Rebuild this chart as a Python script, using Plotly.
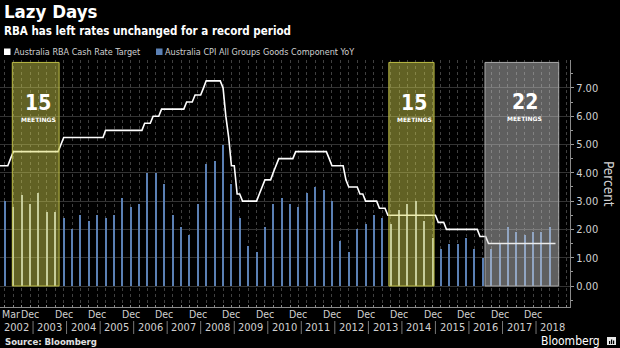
import plotly.graph_objects as go
import pandas as pd

# ---------------- data ----------------
title_text = "Lazy Days"
subtitle_text = "RBA has left rates unchanged for a record period"
legend_labels = ["Australia RBA Cash Rate Target",
                 "Australia CPI All Groups Goods Component YoY"]
source_text = "Source: Bloomberg"

# RBA cash rate target, monthly, Jan 2002 .. Aug 2018
rate_start = "2002-01-01"
cash_rate = [
    4.25, 4.25, 4.25, 4.25, 4.50, 4.75, 4.75, 4.75, 4.75, 4.75, 4.75, 4.75,  # 2002
    4.75, 4.75, 4.75, 4.75, 4.75, 4.75, 4.75, 4.75, 4.75, 4.75, 5.00, 5.25,  # 2003
    5.25, 5.25, 5.25, 5.25, 5.25, 5.25, 5.25, 5.25, 5.25, 5.25, 5.25, 5.25,  # 2004
    5.25, 5.25, 5.50, 5.50, 5.50, 5.50, 5.50, 5.50, 5.50, 5.50, 5.50, 5.50,  # 2005
    5.50, 5.50, 5.50, 5.50, 5.75, 5.75, 5.75, 6.00, 6.00, 6.00, 6.25, 6.25,  # 2006
    6.25, 6.25, 6.25, 6.25, 6.25, 6.25, 6.25, 6.50, 6.50, 6.50, 6.75, 6.75,  # 2007
    6.75, 7.00, 7.25, 7.25, 7.25, 7.25, 7.25, 7.25, 7.00, 6.00, 5.25, 4.25,  # 2008
    4.25, 3.25, 3.25, 3.00, 3.00, 3.00, 3.00, 3.00, 3.00, 3.25, 3.50, 3.75,  # 2009
    3.75, 3.75, 4.00, 4.25, 4.50, 4.50, 4.50, 4.50, 4.50, 4.50, 4.75, 4.75,  # 2010
    4.75, 4.75, 4.75, 4.75, 4.75, 4.75, 4.75, 4.75, 4.75, 4.75, 4.50, 4.25,  # 2011
    4.25, 4.25, 4.25, 4.25, 3.75, 3.50, 3.50, 3.50, 3.50, 3.25, 3.25, 3.00,  # 2012
    3.00, 3.00, 3.00, 3.00, 2.75, 2.75, 2.75, 2.50, 2.50, 2.50, 2.50, 2.50,  # 2013
    2.50, 2.50, 2.50, 2.50, 2.50, 2.50, 2.50, 2.50, 2.50, 2.50, 2.50, 2.50,  # 2014
    2.50, 2.25, 2.25, 2.25, 2.00, 2.00, 2.00, 2.00, 2.00, 2.00, 2.00, 2.00,  # 2015
    2.00, 2.00, 2.00, 2.00, 1.75, 1.75, 1.75, 1.50, 1.50, 1.50, 1.50, 1.50,  # 2016
    1.50, 1.50, 1.50, 1.50, 1.50, 1.50, 1.50, 1.50, 1.50, 1.50, 1.50, 1.50,  # 2017
    1.50, 1.50, 1.50, 1.50, 1.50, 1.50, 1.50, 1.50,                          # 2018
]

# CPI goods component YoY, quarterly, Mar 2002 .. Jun 2018
cpi_start = "2002-03-01"
cpi_goods = [
    3.0, 2.8, 3.2, 2.9,   # 2002
    3.3, 2.6, 2.6, 2.4,   # 2003
    2.0, 2.5, 2.3, 2.5,   # 2004
    2.4, 2.5, 3.1, 2.8,   # 2005
    2.9, 4.0, 4.0, 3.6,   # 2006
    2.5, 2.1, 1.8, 2.9,   # 2007
    4.3, 4.4, 5.0, 3.6,   # 2008
    2.4, 1.4, 1.2, 2.1,   # 2009
    2.9, 3.1, 2.9, 2.8,   # 2010
    3.3, 3.5, 3.4, 3.0,   # 2011
    1.6, 1.2, 2.0, 2.2,   # 2012
    2.5, 2.4, 2.2, 2.7,   # 2013
    2.9, 3.0, 2.3, 1.7,   # 2014
    1.3, 1.5, 1.5, 1.7,   # 2015
    1.3, 1.0, 1.3, 1.5,   # 2016
    2.1, 1.9, 1.8, 1.9,   # 2017
    1.9, 2.1,             # 2018
]

# periods of unchanged rates (highlight boxes)
period_starts = ["2002-05-20", "2013-08-12", "2016-06-24"]
period_ends = ["2003-10-12", "2014-12-17", "2018-09-05"]
period_meetings = ["15", "15", "22"]
period_kind = ["past", "past", "current"]

year_labels = [str(y) for y in range(2002, 2019)]
month_tick_labels = ["Mar"] + ["Dec"] * 16

# ---------------- build ----------------
FONT = "DejaVu Sans Condensed, DejaVu Sans, sans-serif"
FONT_WIDE = "DejaVu Sans, sans-serif"
rate_dates = pd.date_range(rate_start, periods=len(cash_rate), freq="MS")
cpi_dates = pd.date_range(cpi_start, periods=len(cpi_goods), freq="3MS")

p_start = pd.to_datetime(period_starts)
p_end = pd.to_datetime(period_ends)

BAR_BLUE = "#5b80b4"
bar_colors = []
for d in cpi_dates:
    c = BAR_BLUE
    for s, e, k in zip(p_start, p_end, period_kind):
        if s <= d <= e and k == "past":
            c = "#b8c4d8"
    bar_colors.append(c)

fig = go.Figure()
fig.add_trace(go.Bar(
    x=cpi_dates, y=cpi_goods, width=12 * 86400000,
    marker=dict(color=bar_colors, line=dict(width=0)),
    showlegend=False))
fig.add_trace(go.Scatter(
    x=rate_dates, y=cash_rate, mode="lines",
    line=dict(color="#ffffff", width=1.6), showlegend=False))

PLOT_TOP, PLOT_BOT = 60, 307
def py(ypx):
    return (PLOT_BOT - ypx) / (PLOT_BOT - PLOT_TOP)
def px(xpx):
    return xpx / 570.0

shapes = []
annotations = []
for s, e, n, k in zip(p_start, p_end, period_meetings, period_kind):
    if k == "past":
        fill, edge = "rgba(215,215,80,0.45)", "rgba(190,190,70,1)"
        num_c, sub_c = 103.0, 119.0
    else:
        fill, edge = "rgba(210,210,210,0.45)", "rgba(170,170,170,1)"
        num_c, sub_c = 102.0, 118.0
    shapes.append(dict(type="rect", xref="x", yref="y", x0=s, x1=e, y0=0, y1=7.9,
                       fillcolor=fill, line=dict(color=edge, width=1), layer="above"))
    mid = s + (e - s) / 2 + pd.Timedelta(days=30)
    annotations.append(dict(x=mid, y=py(num_c), xref="x", yref="paper", yanchor="middle",
                            text="<b>%s</b>" % n, showarrow=False, borderpad=0,
                            font=dict(family=FONT, size=21, color="white")))
    annotations.append(dict(x=mid, y=py(sub_c), xref="x", yref="paper", yanchor="middle",
                            text="<b>MEETINGS</b>", showarrow=False, borderpad=0,
                            font=dict(family=FONT_WIDE, size=6, color="white")))

# titles
annotations.append(dict(x=0.003, y=py(12), xref="paper", yref="paper", xanchor="left",
                        yanchor="middle", text="<b>%s</b>" % title_text, showarrow=False,
                        font=dict(family=FONT, size=18.5, color="white")))
annotations.append(dict(x=0.003, y=py(31), xref="paper", yref="paper", xanchor="left",
                        yanchor="middle", text="<b>%s</b>" % subtitle_text, showarrow=False,
                        font=dict(family=FONT, size=11.5, color="white")))
# legend
leg_sq = [(4, "#ffffff"), (156, BAR_BLUE)]
leg_tx = [12, 163]
for (sx, col), tx, lab in zip(leg_sq, leg_tx, legend_labels):
    shapes.append(dict(type="rect", xref="paper", yref="paper", x0=px(sx), x1=px(sx + 6.5),
                       y0=py(55), y1=py(48.5), fillcolor=col, line=dict(width=0)))
    annotations.append(dict(x=px(tx), y=py(51.8), xref="paper", yref="paper", xanchor="left",
                            yanchor="middle", text=lab, showarrow=False,
                            font=dict(family=FONT, size=9, color="#d0d0d0")))

# x axis labels
for y in year_labels:
    yr = int(y)
    annotations.append(dict(x=pd.Timestamp(yr, 7, 1), y=py(327), xref="x", yref="paper",
                            yanchor="middle", text=y, showarrow=False,
                            font=dict(family=FONT, size=11, color="#d0d0d0")))
    if yr > 2002:
        shapes.append(dict(type="line", xref="x", yref="paper",
                           x0=pd.Timestamp(yr, 1, 1), x1=pd.Timestamp(yr, 1, 1),
                           y0=py(321), y1=py(334), line=dict(color="#777", width=1)))
for i, lab in enumerate(month_tick_labels):
    if i == 0:
        annotations.append(dict(x=0, y=py(313.5), xref="paper", yref="paper", xanchor="left",
                                yanchor="middle", text=lab, showarrow=False,
                                font=dict(family=FONT, size=10.5, color="#d0d0d0")))
    else:
        annotations.append(dict(x=pd.Timestamp(2001 + i, 12, 1), y=py(313.5), xref="x",
                                yref="paper", yanchor="middle", text=lab, showarrow=False,
                                font=dict(family=FONT, size=10.5, color="#d0d0d0")))

# axis title
annotations.append(dict(x=px(619), y=py(184), xref="paper", yref="paper", text="Percent",
                        xanchor="right", textangle=90, showarrow=False,
                        font=dict(family=FONT, size=13.5, color="#d0d0d0")))
# source & brand
annotations.append(dict(x=px(3), y=py(341), xref="paper", yref="paper", xanchor="left",
                        yanchor="middle", text="<b>%s</b>" % source_text, showarrow=False,
                        font=dict(family=FONT, size=9.5, color="#e0e0e0")))
annotations.append(dict(x=px(602), y=py(341), xref="paper", yref="paper", xanchor="right",
                        yanchor="middle", text="Bloomberg", showarrow=False,
                        font=dict(family=FONT, size=12, color="#ffffff")))
shapes.append(dict(type="rect", xref="paper", yref="paper", x0=px(607), x1=px(616),
                   y0=py(345), y1=py(337), fillcolor="#e8e8e8", line=dict(width=0)))
for bx, bt in [(609, 341), (611, 339.5), (613, 340.5)]:
    shapes.append(dict(type="rect", xref="paper", yref="paper", x0=px(bx), x1=px(bx + 1.2),
                       y0=py(344), y1=py(bt), fillcolor="#000", line=dict(width=0)))

fig.update_layout(
    width=620, height=348,
    margin=dict(l=0, r=50, t=PLOT_TOP, b=348 - PLOT_BOT),
    paper_bgcolor="black", plot_bgcolor="black",
    bargap=0, showlegend=False,
    shapes=shapes, annotations=annotations,
    xaxis=dict(type="date", range=["2002-01-06", "2019-01-06"],
               tickvals=["1990-01-01"], showticklabels=False, ticks="",
               showgrid=False, zeroline=False,
               showline=True, linecolor="#8a8a8a", linewidth=1,
               minor=dict(dtick="M3", tick0="2002-03-01", showgrid=True,
                          gridcolor="#404040", griddash="dot", gridwidth=1,
                          ticks="inside", ticklen=2, tickcolor="#8a8a8a")),
    yaxis=dict(side="right", range=[-0.742, 7.986], tick0=0, dtick=1,
               tickformat=".2f", ticks="outside", ticklen=3, tickcolor="#9a9a9a",
               tickfont=dict(family=FONT, size=11, color="#d0d0d0"),
               showgrid=True, gridcolor="#333333", gridwidth=1, zeroline=False,
               showline=True, linecolor="#8a8a8a", linewidth=1,
               minor=dict(dtick=0.5, ticks="outside", ticklen=2, tickcolor="#9a9a9a",
                          showgrid=False)),
)

fig.write_html("out.html")
